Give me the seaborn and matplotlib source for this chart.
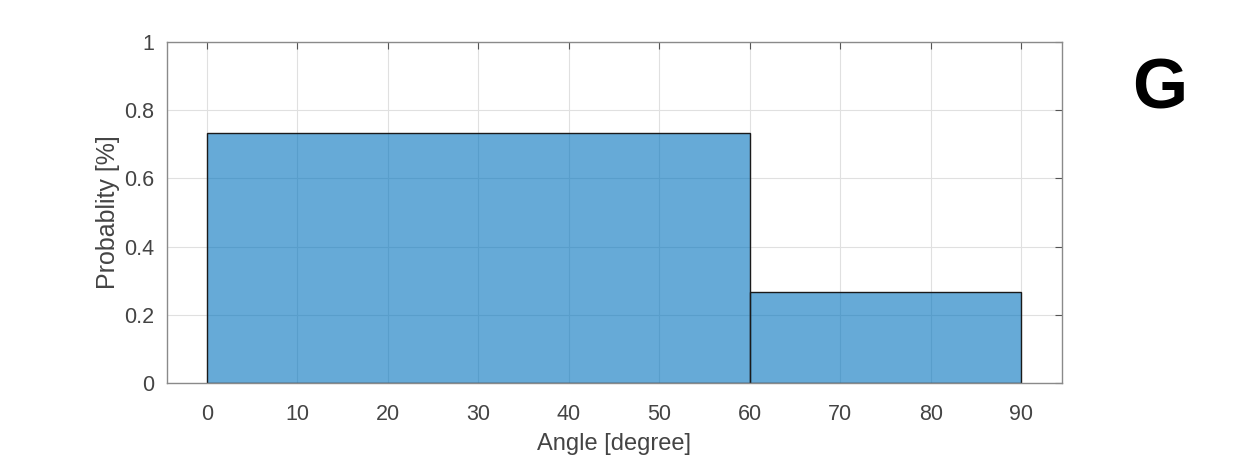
import matplotlib
matplotlib.use("Agg")
import matplotlib.pyplot as plt
import seaborn as sns
import numpy as np

bin_edges = [0, 60, 90]
bin_centers = [30, 75]
probabilities = [0.733, 0.267]
x_ticks = [0, 10, 20, 30, 40, 50, 60, 70, 80, 90]
y_ticks = [0, 0.2, 0.4, 0.6, 0.8, 1]
y_ticklabels = ["0", "0.2", "0.4", "0.6", "0.8", "1"]

sns.set_style("white")
plt.rcParams['font.family'] = ['Liberation Sans', 'DejaVu Sans']

fig = plt.figure(figsize=(12.42, 4.61), dpi=100)
ax = fig.add_axes([0.1345, 0.1692, 0.855 - 0.1345, 0.9089 - 0.1692])

sns.histplot(x=bin_centers, weights=probabilities, bins=bin_edges, stat="count",
             color="#0072BD", alpha=0.6, edgecolor="#1a1a1a", linewidth=1.0, ax=ax, zorder=2)

ax.set_xlim(-4.4, 94.5)
ax.set_ylim(0, 1)
ax.set_xticks(x_ticks)
ax.set_yticks(y_ticks)
ax.set_yticklabels(y_ticklabels)
ax.grid(True, color="#e0e0e0", linewidth=0.8, zorder=0)
ax.set_axisbelow(True)
ax.tick_params(direction="in", length=5, width=0.8, color="#555555", labelcolor="#444444",
               labelsize=15.5, top=True, right=True)
ax.tick_params(axis="x", pad=15)
ax.tick_params(axis="y", pad=9)
for s in ax.spines.values():
    s.set_color("#8a8a8a")
    s.set_linewidth(1.0)
ax.set_xlabel("Angle [degree]", fontsize=17, color="#444444", labelpad=6)
ax.set_ylabel("Probablity [%]", fontsize=18, color="#444444", labelpad=3)

fig.text(0.9335, 0.765, "G", fontsize=51, fontweight="bold", color="black", ha="center", va="baseline")

fig.savefig("out.png", dpi=100)
